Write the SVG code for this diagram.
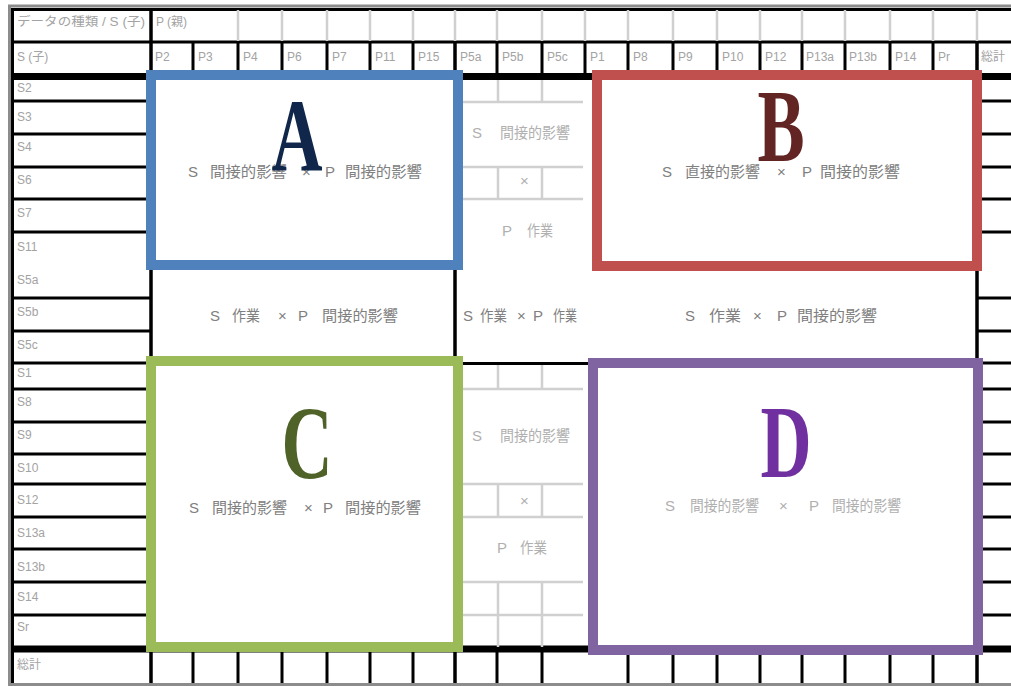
<svg xmlns="http://www.w3.org/2000/svg" width="1011" height="686" viewBox="0 0 1011 686">
<style>
.lbl{font-family:"Liberation Sans","Noto Sans CJK JP",sans-serif;font-size:12px;fill:#a3a3a3}
.cell{font-family:"Liberation Sans","Noto Sans CJK JP",sans-serif;font-size:15px;fill:#808080}
.cj{font-family:"Noto Sans CJK JP",sans-serif;font-size:15px}
.light{fill:#b0b0b0}
.blk{stroke:#000;fill:none}
.gry{stroke:#d0d0d0;fill:none;stroke-width:2.5}
.big{font-family:"Liberation Serif",serif;font-weight:bold;font-size:104px;text-anchor:middle}
.box{fill:#fff;stroke-width:10}
</style>
<rect width="1011" height="686" fill="#fff"/>
<g id="frame">
<path d="M8 6H1011M9.5 5V686M8 684.5H1011" stroke="#8c8c8c" stroke-width="3" fill="none"/>
<path class="blk" stroke-width="3" d="M12.5 8V683M11 9.5H1011M11 42H1011"/>
<path class="blk" stroke-width="7" d="M11 76.5H1011M11 649H1011"/>
<path class="gry" d="M238 10V41M282 10V41M327 10V41M370 10V41M413 10V41M455 10V41M497 10V41M542 10V41M585 10V41M628 10V41M673 10V41M717 10V41M760 10V41M802 10V41M845 10V41M890 10V41M933 10V41M977 10V41"/>
<path class="blk" stroke-width="3" d="M193 42V76M238 42V76M282 42V76M327 42V76M370 42V76M413 42V76M497 42V76M542 42V76M585 42V76M628 42V76M673 42V76M717 42V76M760 42V76M802 42V76M845 42V76M890 42V76M933 42V76"/>
<path class="blk" stroke-width="3.5" d="M151 8V683M977 42V683M455 42V683"/>
<path class="blk" stroke-width="3" d="M193 650V683M238 650V683M282 650V683M327 650V683M370 650V683M413 650V683M497 650V683M542 650V683M628 650V683M673 650V683M717 650V683M760 650V683M802 650V683M845 650V683M890 650V683M933 650V683"/>
<path class="blk" stroke-width="3" d="M14 101H150M14 134H150M14 167H150M14 199H150M14 232H150M14 298H150M14 331H150M14 363H150M14 389H150M14 422H150M14 454H150M14 484H150M14 517H150M14 549H150M14 582H150M14 615H150M977 101H1011M977 134H1011M977 167H1011M977 199H1011M977 232H1011M977 298H1011M977 331H1011M977 363H1011M977 389H1011M977 422H1011M977 454H1011M977 484H1011M977 517H1011M977 549H1011M977 582H1011M977 615H1011M455 363.5H592"/>
<path class="gry" d="M463 102H583M463 167H583M463 199H583M463 389H583M463 484H583M463 517H583M463 582H583M463 615H583M498 80V102M542 80V102M498 167V199M542 167V199M498 365V389M542 365V389M498 484V517M542 484V517M498 582V647M542 582V647"/>
</g>
<g id="headers">
<text class="lbl" x="17" y="26" textLength="128" lengthAdjust="spacingAndGlyphs">データの種類 / S (子)</text>
<text class="lbl" x="156" y="26">P (親)</text>
<text class="lbl" x="17" y="61">S (子)</text>
<text class="lbl" y="61"><tspan x="155">P2</tspan><tspan x="198">P3</tspan><tspan x="243">P4</tspan><tspan x="287">P6</tspan><tspan x="332">P7</tspan><tspan x="375">P11</tspan><tspan x="418">P15</tspan><tspan x="460">P5a</tspan><tspan x="502">P5b</tspan><tspan x="547">P5c</tspan><tspan x="590">P1</tspan><tspan x="633">P8</tspan><tspan x="678">P9</tspan><tspan x="722">P10</tspan><tspan x="765">P12</tspan><tspan x="806">P13a</tspan><tspan x="849">P13b</tspan><tspan x="895">P14</tspan><tspan x="938">Pr</tspan><tspan x="981">総計</tspan></text>
<text class="lbl" x="17"><tspan x="17" y="92">S2</tspan><tspan x="17" y="121">S3</tspan><tspan x="17" y="151">S4</tspan><tspan x="17" y="184">S6</tspan><tspan x="17" y="217">S7</tspan><tspan x="17" y="251">S11</tspan><tspan x="17" y="284">S5a</tspan><tspan x="17" y="316">S5b</tspan><tspan x="17" y="349">S5c</tspan><tspan x="17" y="377">S1</tspan><tspan x="17" y="406">S8</tspan><tspan x="17" y="439">S9</tspan><tspan x="17" y="472">S10</tspan><tspan x="17" y="504">S12</tspan><tspan x="17" y="537">S13a</tspan><tspan x="17" y="571">S13b</tspan><tspan x="17" y="601">S14</tspan><tspan x="17" y="631">Sr</tspan><tspan x="17" y="669">総計</tspan></text>
</g>
<g id="middle-column">
<text class="cell light" x="472" y="138">S</text>
<text class="cell cj light" x="500" y="138" textLength="70" lengthAdjust="spacingAndGlyphs">間接的影響</text>
<text class="cell light" x="520" y="186">×</text>
<text class="cell light" x="502" y="236">P</text>
<text class="cell cj light" x="527" y="236" textLength="26" lengthAdjust="spacingAndGlyphs">作業</text>
<text class="cell light" x="472" y="441">S</text>
<text class="cell cj light" x="500" y="441" textLength="70" lengthAdjust="spacingAndGlyphs">間接的影響</text>
<text class="cell light" x="520" y="506">×</text>
<text class="cell light" x="497" y="553">P</text>
<text class="cell cj light" x="520" y="553" textLength="27" lengthAdjust="spacingAndGlyphs">作業</text>
</g>
<g id="middle-row">
<text class="cell" x="210" y="321">S</text>
<text class="cell cj" x="232" y="321" textLength="28" lengthAdjust="spacingAndGlyphs">作業</text>
<text class="cell" x="278" y="321">×</text>
<text class="cell" x="298" y="321">P</text>
<text class="cell cj" x="322" y="321" textLength="76" lengthAdjust="spacingAndGlyphs">間接的影響</text>
<text class="cell" x="463" y="321" font-size="13">S</text>
<text class="cell cj" x="480" y="321" textLength="27" lengthAdjust="spacingAndGlyphs">作業</text>
<text class="cell" x="517" y="321" font-size="13">×</text>
<text class="cell" x="533" y="321" font-size="13">P</text>
<text class="cell cj" x="553" y="321" textLength="24" lengthAdjust="spacingAndGlyphs">作業</text>
<text class="cell" x="685" y="321">S</text>
<text class="cell cj" x="709" y="321" textLength="32" lengthAdjust="spacingAndGlyphs">作業</text>
<text class="cell" x="753" y="321">×</text>
<text class="cell" x="777" y="321">P</text>
<text class="cell cj" x="797" y="321" textLength="80" lengthAdjust="spacingAndGlyphs">間接的影響</text>
</g>
<g id="node-A">
<rect class="box" x="151" y="75" width="307" height="190" stroke="#4f81bd"/>
<text class="cell" x="188" y="177">S</text>
<text class="cell cj" x="210" y="177" textLength="77" lengthAdjust="spacingAndGlyphs">間接的影響</text>
<text class="cell" x="302" y="177">×</text>
<text class="cell" x="325" y="177">P</text>
<text class="cell cj" x="345" y="177" textLength="77" lengthAdjust="spacingAndGlyphs">間接的影響</text>
<text class="big" transform="translate(297,171) scale(0.68,1)" fill="#10264a">A</text>
</g>
<g id="node-B">
<rect class="box" x="597" y="75" width="380" height="191" stroke="#c0504d"/>
<text class="cell" x="662" y="177">S</text>
<text class="cell cj" x="685" y="177" textLength="75" lengthAdjust="spacingAndGlyphs">直接的影響</text>
<text class="cell" x="777" y="177">×</text>
<text class="cell" x="802" y="177">P</text>
<text class="cell cj" x="820" y="177" textLength="80" lengthAdjust="spacingAndGlyphs">間接的影響</text>
<text class="big" transform="translate(781,161) scale(0.68,1)" fill="#632523">B</text>
</g>
<g id="node-C">
<rect class="box" x="151" y="361" width="307" height="286" stroke="#9bbb59"/>
<text class="cell" x="189" y="513">S</text>
<text class="cell cj" x="212" y="513" textLength="75" lengthAdjust="spacingAndGlyphs">間接的影響</text>
<text class="cell" x="304" y="513">×</text>
<text class="cell" x="323" y="513">P</text>
<text class="cell cj" x="345" y="513" textLength="76" lengthAdjust="spacingAndGlyphs">間接的影響</text>
<text class="big" transform="translate(307,478) scale(0.68,1)" fill="#4f6228">C</text>
</g>
<g id="node-D">
<rect class="box" x="593" y="363" width="385" height="287" stroke="#8064a2"/>
<text class="cell light" x="665" y="511">S</text>
<text class="cell cj light" x="690" y="511" textLength="69" lengthAdjust="spacingAndGlyphs">間接的影響</text>
<text class="cell light" x="779" y="511">×</text>
<text class="cell light" x="809" y="511">P</text>
<text class="cell cj light" x="832" y="511" textLength="69" lengthAdjust="spacingAndGlyphs">間接的影響</text>
<text class="big" transform="translate(786,477) scale(0.68,1)" fill="#7030a0">D</text>
</g>
</svg>
